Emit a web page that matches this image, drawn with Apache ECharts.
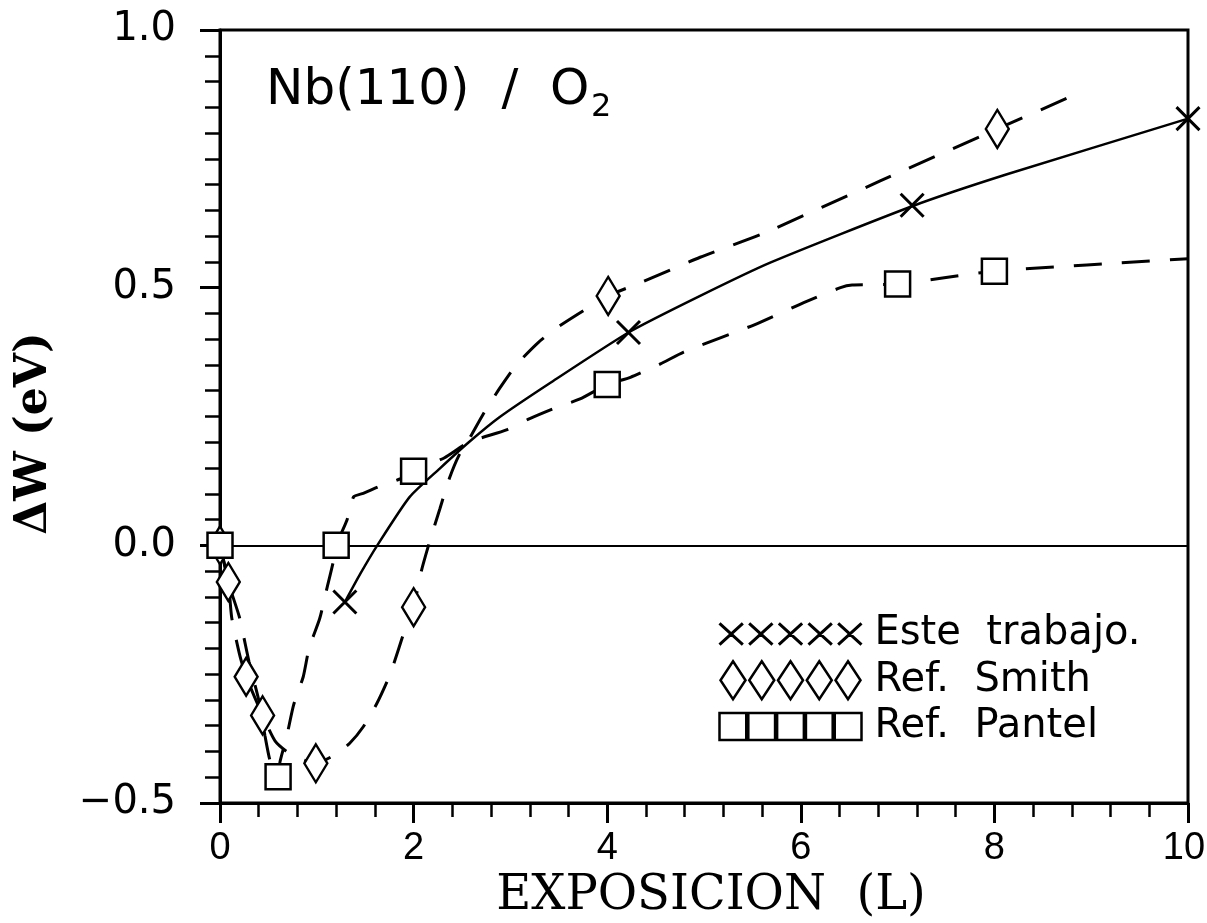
<!DOCTYPE html>
<html><head><meta charset="utf-8">
<script src="https://cdn.jsdelivr.net/npm/echarts@6/dist/echarts.min.js"></script>
<style>html,body{margin:0;padding:0;background:#fff}#c{width:1207px;height:923px}</style>
</head><body><div id="c"></div>
<script>
// ---- data ----
const xTickLabels = ['0','2','4','6','8','10'];
const yTickLabels = ['−0.5','0.0','0.5','1.0'];
const seriesNames = ['Este  trabajo.', 'Ref.  Smith', 'Ref.  Pantel'];

const esteX = [0, 1.29, 4.22, 7.15, 10];
const esteY = [0, -0.11, 0.413, 0.66, 0.828];
const esteFitX = [1.29, 1.45, 1.625, 1.96, 2.27, 2.57, 2.89, 3.41, 4.22, 4.96, 5.69, 7.15, 8.13, 10];
const esteFitY = [-0.11, -0.055, 0, 0.094, 0.149, 0.2, 0.249, 0.315, 0.413, 0.484, 0.549, 0.658, 0.72, 0.828];

const smithX = [0, 0.086, 0.27, 0.44, 0.99, 2.0, 4.01, 8.03];
const smithY = [0, -0.071, -0.255, -0.33, -0.423, -0.12, 0.484, 0.808];
const smithLineX = [0, 0.086, 0.12, 0.2, 0.27, 0.44, 0.57, 0.72, 0.99, 1.2, 1.34, 1.48, 1.62, 1.76, 1.93, 2.0, 2.08, 2.17, 2.27, 2.37, 2.47, 2.57, 2.72, 2.89, 3.06, 3.29, 3.51, 4.01, 4.35, 4.96, 5.61, 6.82, 8.03, 8.9];
const smithLineY = [0, -0.071, -0.139, -0.21, -0.255, -0.33, -0.38, -0.404, -0.423, -0.405, -0.384, -0.352, -0.307, -0.249, -0.152, -0.12, -0.05, 0.01, 0.07, 0.13, 0.175, 0.205, 0.255, 0.305, 0.35, 0.394, 0.426, 0.484, 0.51, 0.559, 0.605, 0.707, 0.808, 0.88];

const pantelX = [0, 0.6, 1.2, 2.0, 4.0, 7.0, 8.0];
const pantelY = [0, -0.449, 0, 0.144, 0.312, 0.507, 0.532];
const pantelLineX = [0, 0.1, 0.2, 0.3, 0.4, 0.465, 0.52, 0.6, 0.62, 0.69, 0.76, 0.86, 0.92, 1.03, 1.1, 1.17, 1.2, 1.31, 1.38, 1.48, 1.67, 1.86, 2.0, 2.13, 2.32, 2.57, 2.96, 3.2, 3.48, 3.72, 4.0, 4.24, 4.55, 4.79, 5.52, 6.03, 6.41, 6.53, 7.0, 8.0, 10];
const pantelLineY = [0, -0.08, -0.139, -0.226, -0.3, -0.37, -0.42, -0.449, -0.42, -0.37, -0.31, -0.255, -0.2, -0.142, -0.087, -0.032, 0, 0.048, 0.094, 0.101, 0.116, 0.129, 0.144, 0.155, 0.17, 0.2, 0.224, 0.246, 0.268, 0.284, 0.312, 0.326, 0.352, 0.375, 0.428, 0.471, 0.5, 0.505, 0.507, 0.532, 0.556];

// ---- build ----
const zip = (a, b) => a.map((v, i) => [v, b[i]]);
const xPath = 'path://M0,0L10,10M10,0L0,10';
function repeatPath(one, n, pitch) {
  let s = '';
  for (let i = 0; i < n; i++) s += one(i * pitch);
  return 'path://' + s;
}
const legX = repeatPath(o => `M${o},0L${o+23},21M${o+23},0L${o},21`, 5, 29.25);
const legD = repeatPath(o => `M${o+12.5},0L${o+25},19L${o+12.5},38L${o},19Z`, 5, 28.75);
const legS = repeatPath(o => `M${o},0L${o+26},0L${o+26},26L${o},26Z`, 5, 28);

const chart = echarts.init(document.getElementById('c'));
const dash = [28, 20];
const lineBase = { type: 'line', showSymbol: false, symbol: 'none', smooth: 0.2, z: 2, silent: true };
const option = {
  animation: false,
  backgroundColor: '#fff',
  grid: { left: 220, right: 19, top: 30, bottom: 120, show: true, borderColor: '#000', borderWidth: 3,
    containLabel: false, outerBoundsMode: 'none' },
  xAxis: {
    type: 'value', min: 0, max: 10, interval: 2,
    name: 'EXPOSICION  (L)', nameLocation: 'middle', nameGap: 66,
    nameTextStyle: { fontFamily: 'DejaVu Serif', fontSize: 48, color: '#000', padding: [0, 0, 0, 14] },
    axisLine: { onZero: false, lineStyle: { color: '#000', width: 3 } },
    axisTick: { length: 20, lineStyle: { color: '#000', width: 3 } },
    minorTick: { show: true, splitNumber: 5, length: 14, lineStyle: { color: '#000', width: 2.5 } },
    splitLine: { show: false },
    axisLabel: { fontFamily: 'Liberation Sans', fontSize: 38, color: '#000', margin: 27,
      formatter: v => { const i = Math.round(v / 2); return i === xTickLabels.length - 1 ? '{e|' + xTickLabels[i] + '}' : xTickLabels[i]; },
      rich: { e: { fontFamily: 'Liberation Sans', fontSize: 38, color: '#000', padding: [0, 8, 0, 0] } } }
  },
  yAxis: {
    type: 'value', min: -0.5, max: 1.0, interval: 0.5,
    name: 'ΔW (eV)', nameLocation: 'middle', nameGap: 163, nameRotate: 90,
    nameTextStyle: { fontFamily: 'DejaVu Serif', fontWeight: 'bold', fontSize: 44, color: '#000', padding: [0, 34, 0, 0] },
    axisLine: { onZero: false, lineStyle: { color: '#000', width: 3 } },
    axisTick: { length: 20, lineStyle: { color: '#000', width: 3 } },
    minorTick: { show: true, splitNumber: 10, length: 15, lineStyle: { color: '#000', width: 2.5 } },
    splitLine: { show: false },
    axisLabel: { fontFamily: 'DejaVu Sans', fontSize: 40, color: '#000', margin: 44,
      formatter: v => yTickLabels[Math.round((v + 0.5) / 0.5)] }
  },
  legend: {
    orient: 'vertical', left: 712, top: 609, itemWidth: 142, itemHeight: 38, itemGap: 6,
    selectedMode: false,
    textStyle: { fontFamily: 'DejaVu Sans', fontSize: 40, color: '#000', lineHeight: 38, padding: [0, 0, 0, 8] },
    data: [
      { name: seriesNames[0], icon: legX, itemStyle: { color: 'none', borderColor: '#000', borderWidth: 3 } },
      { name: seriesNames[1], icon: legD, itemStyle: { color: '#fff', borderColor: '#000', borderWidth: 2.5 } },
      { name: seriesNames[2], icon: legS, itemStyle: { color: '#fff', borderColor: '#000', borderWidth: 2.5 } }
    ]
  },
  graphic: [
    { type: 'text', x: 266, y: 91, z: 10, style: { text: 'Nb(110)  /  O', fontFamily: 'DejaVu Sans', fontSize: 50, fill: '#000', verticalAlign: 'middle' } },
    { type: 'text', x: 591, y: 108, z: 10, style: { text: '2', fontFamily: 'DejaVu Sans', fontSize: 32, fill: '#000', verticalAlign: 'middle' } }
  ],
  series: [
    Object.assign({}, lineBase, {
      name: 'fitEste', data: zip(esteFitX, esteFitY), lineStyle: { color: '#000', width: 2.5, type: 'solid' },
      markLine: { silent: true, symbol: ['none', 'none'], label: { show: false },
        lineStyle: { color: '#000', width: 2, type: 'solid' }, data: [{ yAxis: 0 }] }
    }),
    Object.assign({}, lineBase, { name: 'lineSmith', data: zip(smithLineX, smithLineY), lineStyle: { color: '#000', width: 3, type: dash } }),
    Object.assign({}, lineBase, { name: 'linePantel', data: zip(pantelLineX, pantelLineY), lineStyle: { color: '#000', width: 3, type: dash } }),
    { type: 'scatter', name: seriesNames[0], data: zip(esteX, esteY), symbol: xPath, symbolSize: 23, z: 5, symbolKeepAspect: true,
      itemStyle: { color: 'none', borderColor: '#000', borderWidth: 3, opacity: 1 } },
    { type: 'scatter', name: seriesNames[1], data: zip(smithX, smithY), symbol: 'diamond', symbolSize: [23, 38], z: 5, symbolKeepAspect: true,
      itemStyle: { color: '#fff', borderColor: '#000', borderWidth: 2.5, opacity: 1 } },
    { type: 'scatter', name: seriesNames[2], data: zip(pantelX, pantelY), symbol: 'rect', symbolSize: 25, z: 5, symbolKeepAspect: true,
      itemStyle: { color: '#fff', borderColor: '#000', borderWidth: 2.5, opacity: 1 } }
  ]
};
chart.setOption(option);
</script></body></html>
